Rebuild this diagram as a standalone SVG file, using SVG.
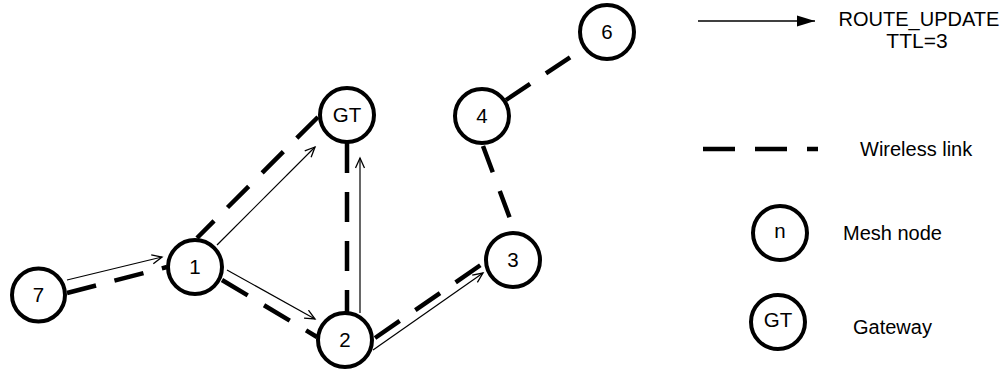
<svg xmlns="http://www.w3.org/2000/svg" width="1005" height="378" viewBox="0 0 1005 378">
<style>
.node{fill:#fff;stroke:#000;stroke-width:4}
.lbl{font-family:"Liberation Sans",Arial,sans-serif;font-size:20.5px;fill:#000;text-anchor:middle}
.leg{font-family:"Liberation Sans",Arial,sans-serif;font-size:20px;fill:#000;text-anchor:middle}
.txt{font-family:"Liberation Sans",Arial,sans-serif;font-size:20px;fill:#000}
.link{fill:none;stroke:#000;stroke-width:4.5;stroke-dasharray:30 19}
.msg{fill:none;stroke:#000;stroke-width:1.2;marker-end:url(#open)}
</style>
<defs>
<marker id="open" markerUnits="userSpaceOnUse" markerWidth="14" markerHeight="12" refX="11" refY="5" orient="auto">
<path d="M1,0.5 L11,5 L1,9.5" fill="none" stroke="#000" stroke-width="1.3"/>
</marker>
<marker id="filled" markerUnits="userSpaceOnUse" markerWidth="20" markerHeight="12" refX="18" refY="6" orient="auto">
<path d="M0,0.5 L18,6 L0,11.5 Z" fill="#000"/>
</marker>
</defs>
<rect width="1005" height="378" fill="#fff"/>
<g id="connectors">
<path class="link" d="M67,293 L167,267"/>
<path class="link" d="M318,117 L197,238"/>
<path class="link" d="M347,143 L347,312"/>
<path class="link" d="M222,280 L317,337"/>
<path class="link" d="M375,338 L485,262"/>
<path class="link" style="stroke-dasharray:28 20" d="M483,146 L515,232"/>
<path class="link" style="stroke-dasharray:29 19" d="M506,100 L584,48"/>
<path class="msg" d="M67,280 L162,257"/>
<path class="msg" d="M217,245 L315,147"/>
<path class="msg" d="M227,270 L315,319"/>
<path class="msg" d="M360,313 L360,158"/>
<path class="msg" d="M373,350 L483,273"/>
</g>
<g id="node-7"><circle class="node" cx="38.5" cy="295" r="26.5"/><text class="lbl" x="38.5" y="302">7</text></g>
<g id="node-1"><circle class="node" cx="195" cy="267" r="27"/><text class="lbl" x="195" y="274">1</text></g>
<g id="node-GT"><circle class="node" cx="347" cy="115" r="27"/><text class="lbl" x="347" y="122">GT</text></g>
<g id="node-2"><circle class="node" cx="345" cy="340" r="27"/><text class="lbl" x="345" y="347">2</text></g>
<g id="node-3"><circle class="node" cx="513" cy="260" r="27"/><text class="lbl" x="513" y="267">3</text></g>
<g id="node-4"><circle class="node" cx="482" cy="116" r="27"/><text class="lbl" x="482" y="123">4</text></g>
<g id="node-6"><circle class="node" cx="607" cy="32" r="27"/><text class="lbl" x="607" y="39">6</text></g>
<g id="legend">
<path d="M698,21 L815,21" stroke="#000" stroke-width="1.5" marker-end="url(#filled)"/>
<text class="leg" x="919" y="26">ROUTE_UPDATE</text>
<text class="leg" x="917" y="48" style="font-size:21px">TTL=3</text>
<path d="M703,149 L818,149" stroke="#000" stroke-width="4.5" stroke-dasharray="32 20" fill="none"/>
<text class="txt" x="860" y="156">Wireless link</text>
<circle class="node" cx="780" cy="233" r="27"/><text class="lbl" x="780" y="238">n</text>
<text class="txt" x="843" y="240">Mesh node</text>
<circle class="node" cx="778" cy="322" r="27"/><text class="lbl" x="778" y="327">GT</text>
<text class="txt" x="853" y="334">Gateway</text>
</g>
</svg>
